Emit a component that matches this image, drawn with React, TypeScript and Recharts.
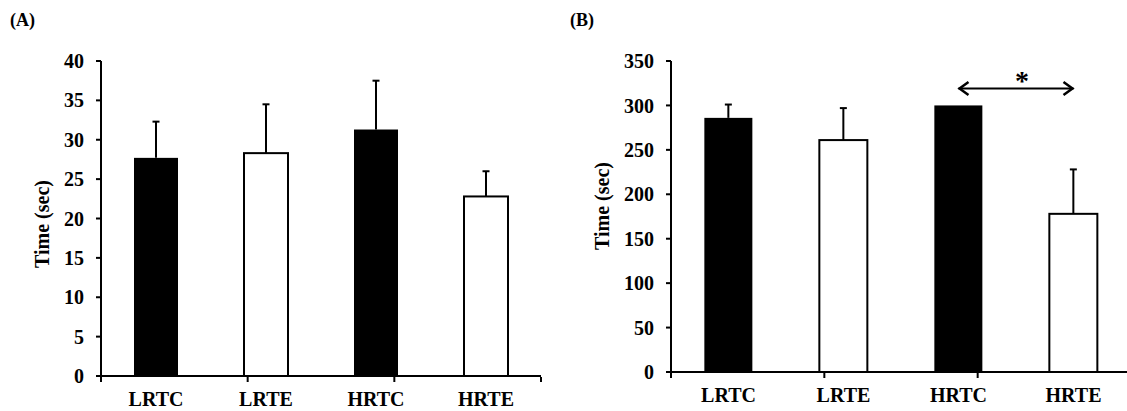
import React from 'react';
import { BarChart, Bar, XAxis, YAxis, ReferenceLine } from 'recharts';

// ---- data ----
const categories = ['LRTC', 'LRTE', 'HRTC', 'HRTE'];
const timeA = [27.7, 28.3, 31.3, 22.8];
const semA = [4.6, 6.2, 6.2, 3.2];
const ticksA = [0, 5, 10, 15, 20, 25, 30, 35, 40];
const timeB = [286, 261, 300, 178];
const semB = [15, 36, 0, 50];
const ticksB = [0, 50, 100, 150, 200, 250, 300, 350];
const edgeTicks = [0, 1, 2, 3, 4];
const sigFrom = 'HRTC';
const sigTo = 'HRTE';
const sigLevel = 319;
const sigMark = '*';
const panelLabels = ['(A)', '(B)'];
const yLabel = 'Time (sec)';

const dataA = categories.map((c, i) => ({ name: c, time: timeA[i], sem: semA[i] }));
const dataB = categories.map((c, i) => ({ name: c, time: timeB[i], sem: semB[i] }));

const FONT = "'Liberation Serif', 'Times New Roman', serif";

// Bar drawn through the library's scale; error bar length uses the same px-per-unit as the bar.
const BarWithError = (props: any) => {
  const { x, y, width, height, payload } = props;
  if (x == null || !payload) return null;
  const control = String(payload.name).endsWith('C');
  const pxPerUnit = payload.time ? height / payload.time : 0;
  const errPx = payload.sem * pxPerUnit;
  const cx = x + width / 2;
  return (
    <g>
      <rect
        x={x}
        y={y}
        width={width}
        height={height}
        fill={control ? '#000' : '#fff'}
        stroke={control ? 'none' : '#000'}
        strokeWidth={2}
      />
      {errPx > 0 && (
        <g stroke="#000" strokeWidth={2}>
          <line x1={cx} y1={y} x2={cx} y2={y - errPx} />
          <line x1={cx - 3.5} y1={y - errPx} x2={cx + 3.5} y2={y - errPx} />
        </g>
      )}
    </g>
  );
};

const ArrowShape = (props: any) => {
  const { x1, y1, x2, y2 } = props;
  if (x1 == null) return null;
  const h = 10;
  const v = 6.5;
  return (
    <g>
      <line x1={x1} y1={y1} x2={x2} y2={y2} stroke="#000" strokeWidth={2} />
      <path d={`M ${x1 + h} ${y1 - v} L ${x1 + 1} ${y1} L ${x1 + h} ${y1 + v}`} fill="none" stroke="#000" strokeWidth={2.5} />
      <path d={`M ${x2 - h} ${y2 - v} L ${x2 - 1} ${y2} L ${x2 - h} ${y2 + v}`} fill="none" stroke="#000" strokeWidth={2.5} />
      <text x={(x1 + x2) / 2 + 6} y={y1 + 1} textAnchor="middle" fontFamily={FONT} fontWeight="bold" fontSize={28} fill="#000">
        {sigMark}
      </text>
    </g>
  );
};

const blankTick = () => '';

type PanelProps = {
  data: any[];
  ticks: number[];
  left: number;
  width: number;
  margin: any;
  yAxisWidth: number;
  gap: string;
  panelLabel: string;
  labelPos: [number, number];
  showSig?: boolean;
};

const Panel = ({ data, ticks, left, width, margin, yAxisWidth, gap, panelLabel, labelPos, showSig }: PanelProps) => (
  <div style={{ position: 'absolute', left, top: 0, width, height: 411 }}>
    <BarChart width={width} height={411} data={data} margin={margin} barCategoryGap={gap}>
      <XAxis
        xAxisId="edge"
        type="number"
        domain={[0, 4]}
        ticks={edgeTicks}
        interval={0}
        allowDataOverflow
        tickFormatter={blankTick}
        axisLine={false}
        tickLine={{ stroke: '#000', strokeWidth: 2 }}
        tickSize={5}
        height={1}
      />
      <XAxis
        xAxisId="cat"
        dataKey="name"
        interval={0}
        axisLine={{ stroke: '#000', strokeWidth: 2 }}
        tickLine={false}
        tickSize={0}
        tickMargin={16}
        height={1}
        tick={{ fill: '#000', fontSize: 20, fontWeight: 'bold', fontFamily: FONT }}
      />
      <YAxis
        domain={[0, ticks[ticks.length - 1]]}
        ticks={ticks}
        interval={0}
        width={yAxisWidth}
        axisLine={{ stroke: '#000', strokeWidth: 2 }}
        tickLine={{ stroke: '#000', strokeWidth: 2 }}
        tickSize={5}
        tickMargin={12}
        tick={{ fill: '#000', fontSize: 20, fontWeight: 'bold', fontFamily: FONT }}
      />
      <Bar xAxisId="cat" dataKey="time" isAnimationActive={false} shape={BarWithError} />
      {showSig && (
        <ReferenceLine
          xAxisId="cat"
          segment={[{ x: sigFrom, y: sigLevel }, { x: sigTo, y: sigLevel }]}
          shape={ArrowShape}
          ifOverflow="visible"
        />
      )}
    </BarChart>
    <svg width={width} height={411} style={{ position: 'absolute', left: 0, top: 0, pointerEvents: 'none' }}>
      <text x={10} y={26} fontFamily={FONT} fontWeight="bold" fontSize={18} fill="#000">
        {panelLabel}
      </text>
      <text
        x={labelPos[0]}
        y={labelPos[1]}
        transform={`rotate(-90, ${labelPos[0]}, ${labelPos[1]})`}
        textAnchor="middle"
        dominantBaseline="central"
        fontFamily={FONT}
        fontWeight="bold"
        fontSize={20}
        fill="#000"
      >
        {yLabel}
      </text>
    </svg>
  </div>
);

export default function App() {
  return (
    <div style={{ position: 'absolute', left: 0, top: 0, width: 1127, height: 411, overflow: 'hidden', background: '#fff' }}>
      <Panel
        data={dataA}
        ticks={ticksA}
        left={0}
        width={560}
        margin={{ top: 61, right: 19, bottom: 33, left: 0 }}
        yAxisWidth={101}
        gap="30%"
        panelLabel={panelLabels[0]}
        labelPos={[42, 224]}
      />
      <Panel
        data={dataB}
        ticks={ticksB}
        left={560}
        width={580}
        margin={{ top: 61, right: 9, bottom: 37, left: 0 }}
        yAxisWidth={111}
        gap="29%"
        panelLabel={panelLabels[1]}
        labelPos={[42, 206]}
        showSig
      />
    </div>
  );
}
